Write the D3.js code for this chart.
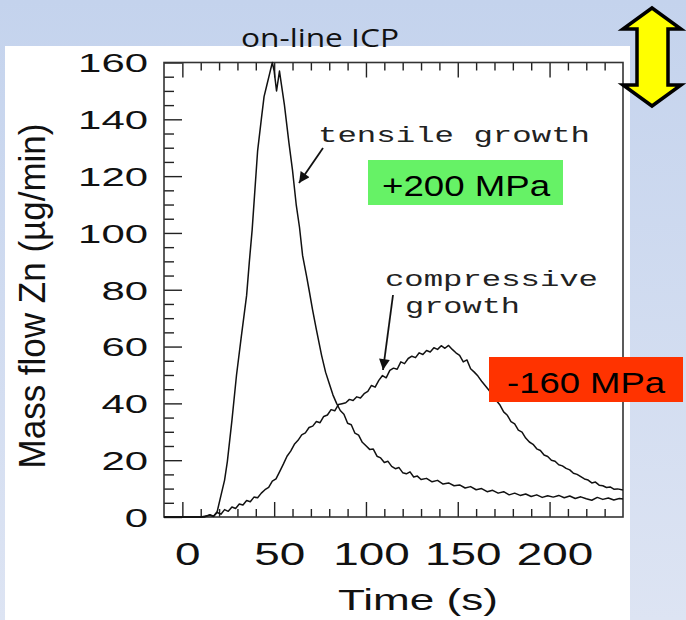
<!DOCTYPE html>
<html>
<head>
<meta charset="utf-8">
<script src="https://cdn.jsdelivr.net/npm/d3@7"></script>
<style>
  body { margin: 0; overflow: hidden; }
  svg { display: block; }
  .tick line { stroke: #222; stroke-width: 1.4; }
</style>
</head>
<body>
<div id="chart"></div>
<script>
// Axis domains and ticks
const timeDomain = [-10, 240];
const massDomain = [0, 160];
const timeTicks = [0, 50, 100, 150, 200];
const timeMinorTicks = [10, 20, 30, 40, 60, 70, 80, 90, 110, 120, 130, 140, 160, 170, 180, 190, 210, 220, 230];
const massTicks = [0, 20, 40, 60, 80, 100, 120, 140, 160];
const massMinorTicks = [5, 10, 15, 25, 30, 35, 45, 50, 55, 65, 70, 75, 85, 90, 95, 105, 110, 115, 125, 130, 135, 145, 150, 155];

// Tensile growth (+200 MPa) trace
const tensileTime = [-10, 10, 15, 17, 19, 21, 23, 24.5, 27, 29.5, 32, 35, 36.5, 38, 41, 43, 44.5, 46, 47.5, 49, 50, 51.3, 52.9, 54, 55.6, 58, 60, 62, 63.8, 65.5, 67.6, 69, 70.9, 73, 75.8, 78, 80, 82, 84,
  86, 88, 90, 92, 94, 96, 98, 100, 102, 104, 106, 108, 110, 112, 114, 116, 118, 120, 122, 124, 126, 128, 130, 133, 136, 139, 142, 145, 148, 151, 154, 157, 160,
  163, 166, 169, 172, 175, 178, 181, 184, 187, 190, 193, 196, 199, 202, 205, 208, 211, 214, 217, 220, 223, 226, 229, 232, 235, 238, 240];
const tensileMass = [0, 0, 0.6, 0.2, 2, 7.5, 13, 19.5, 34, 50, 63, 78, 90, 101, 129, 140, 148, 152, 156, 160, 157, 150, 157, 152, 145, 132, 122, 110, 102, 92, 85, 80, 73, 66, 57, 51, 47, 43, 40,
  37.5, 36.2, 33, 32.5, 29.5, 28.8, 26.3, 25.1, 23.8, 23.9, 21.4, 20.8, 19.2, 19.6, 17.8, 17.0, 17.4, 15.6, 15.2, 15.9, 14.1, 14.4, 13.2, 13.6, 12.4, 12.9, 11.6, 12.0, 11.0, 11.3, 10.2, 10.7, 9.6,
  10.0, 8.9, 9.4, 8.4, 8.9, 7.8, 8.4, 7.6, 8.1, 7.2, 7.8, 6.9, 7.5, 7.0, 7.6, 6.8, 7.4, 6.5, 7.1, 6.4, 5.9, 6.9, 6.2, 6.7, 6.0, 6.5, 6.3];

// Compressive growth (-160 MPa) trace
const compressiveTime = [-10, 12, 15, 17, 19, 21, 23, 25, 27, 29, 31, 33, 35, 37, 39, 41, 43, 45, 47, 49, 51, 53, 55, 57, 59, 61, 63, 65, 67, 69, 71, 73, 75, 77, 79, 81, 83, 85, 87, 89,
  91, 93, 95, 97, 99, 101, 103, 105, 107, 109, 111, 113, 115, 117, 119, 121, 123, 125, 127, 129, 131, 133, 135, 137, 139, 141, 143, 145, 147, 149, 151, 153, 155, 157, 159,
  161, 163, 165, 167, 169, 171, 173, 175, 177, 179, 181, 183, 185, 187, 189, 191, 193, 195, 197, 199, 201, 203, 205, 207, 209, 211, 213, 215, 217, 219, 221, 223, 225, 227, 229, 231, 233, 235, 237, 240];
const compressiveMass = [0, 0, 0.8, 0.3, 1.6, 1.0, 2.6, 2.0, 3.5, 3.0, 4.6, 4.2, 5.8, 5.4, 7.0, 6.8, 8.4, 9.6, 10.4, 12.6, 13.4, 16.0, 18.6, 21.4, 23.2, 25.6, 27.0, 28.9, 29.6, 31.5, 32.0, 33.6, 33.2, 35.4, 35.9, 37.8, 37.4, 39.6, 39.9, 40.2,
  41.4, 41.0, 42.3, 41.9, 43.4, 44.2, 46.3, 45.7, 48.1, 49.8, 49.0, 51.6, 52.4, 52.0, 54.6, 54.0, 55.8, 56.6, 56.1, 57.8, 57.2, 58.6, 58.1, 59.6, 59.0, 60.3, 59.4, 60.4, 59.0, 57.8, 56.9, 54.6, 55.3, 52.2, 51.0,
  49.6, 47.8, 46.2, 44.6, 42.9, 41.0, 39.4, 37.0, 35.8, 33.6, 32.8, 30.6, 29.9, 27.8, 26.4, 25.6, 24.0, 23.4, 21.8, 21.3, 20.0, 19.6, 18.4, 18.0, 17.1, 16.6, 15.4, 15.0, 14.2, 13.4, 13.0, 12.0, 12.3, 11.2, 11.0, 10.4, 10.6, 9.8, 9.9, 9.5];

const W = 686, H = 620;
const svg = d3.select("#chart").append("svg").attr("width", W).attr("height", H);

// slide background gradient
const defs = svg.append("defs");
const grad = defs.append("linearGradient").attr("id", "bg").attr("x1", 0).attr("y1", 0).attr("x2", 0).attr("y2", 1);
grad.append("stop").attr("offset", "0%").attr("stop-color", "#c4d3ed");
grad.append("stop").attr("offset", "100%").attr("stop-color", "#dde4f3");
defs.append("marker").attr("id", "head").attr("viewBox", "0 0 10 10").attr("refX", 10).attr("refY", 5)
  .attr("markerWidth", 7).attr("markerHeight", 6).attr("markerUnits", "strokeWidth").attr("orient", "auto")
  .append("path").attr("d", "M0,0L10,5L0,10z").attr("fill", "#111");

svg.append("rect").attr("width", W).attr("height", H).attr("fill", "url(#bg)");
svg.append("rect").attr("x", 5).attr("y", 46).attr("width", 625).attr("height", 574).attr("fill", "#fff");

const x = d3.scaleLinear().domain(timeDomain).range([164, 623]);
const y = d3.scaleLinear().domain(massDomain).range([517, 62.5]);

// bottom axis
const gb = svg.append("g").attr("transform", `translate(0,${y(0)})`);
gb.call(d3.axisBottom(x).tickValues(timeMinorTicks).tickSize(-8).tickFormat(""));
gb.append("g").call(d3.axisBottom(x).tickValues(timeTicks).tickSize(-15).tickFormat(d3.format("d")));
gb.selectAll(".domain").remove();
gb.selectAll("text")
  .attr("y", 48).attr("dy", 0).attr("dx", 5)
  .attr("font-family", "Liberation Sans, Arial, sans-serif").attr("font-size", 32).attr("fill", "#111")
  .attr("textLength", function() { return this.textContent.length * 25.5; })
  .attr("lengthAdjust", "spacingAndGlyphs");

// top axis (ticks only)
const gt = svg.append("g").attr("transform", `translate(0,${y(160)})`);
gt.call(d3.axisTop(x).tickValues(timeMinorTicks).tickSize(-8).tickFormat(""));
gt.append("g").call(d3.axisTop(x).tickValues(timeTicks).tickSize(-15).tickFormat(""));
gt.selectAll(".domain").remove();

// left axis
const gl = svg.append("g").attr("transform", `translate(${x(-10)},0)`);
gl.call(d3.axisLeft(y).tickValues(massMinorTicks).tickSize(-10).tickFormat(""));
gl.append("g").call(d3.axisLeft(y).tickValues(massTicks).tickSize(-18).tickPadding(16).tickFormat(d3.format("d")));
gl.selectAll(".domain").remove();
gl.selectAll("text")
  .attr("dy", "0.36em")
  .attr("font-family", "Liberation Sans, Arial, sans-serif").attr("font-size", 26).attr("fill", "#111")
  .attr("textLength", function() { return this.textContent.length * 23.3; })
  .attr("lengthAdjust", "spacingAndGlyphs");

// frame
svg.append("rect")
  .attr("x", x(-10)).attr("y", y(160))
  .attr("width", x(240) - x(-10)).attr("height", y(0) - y(160))
  .attr("fill", "none").attr("stroke", "#333").attr("stroke-width", 1.6);

// curves
const line = d3.line().x((d) => x(d[0])).y((d) => y(d[1]));
const tensile = tensileTime.map((t, i) => [t, tensileMass[i]]);
const compressive = compressiveTime.map((t, i) => [t, compressiveMass[i]]);
[tensile, compressive].forEach((series) => {
  svg.append("path").datum(series).attr("d", line)
    .attr("fill", "none").attr("stroke", "#111").attr("stroke-width", 1.5).attr("stroke-linejoin", "round");
});

// axis titles
svg.append("text")
  .attr("x", 418).attr("y", 610).attr("text-anchor", "middle")
  .attr("font-family", "Liberation Sans, Arial, sans-serif").attr("font-size", 30).attr("fill", "#111")
  .attr("textLength", 160).attr("lengthAdjust", "spacingAndGlyphs")
  .text("Time (s)");
svg.append("text")
  .attr("transform", "translate(45,296) rotate(-90)").attr("text-anchor", "middle")
  .attr("font-family", "Liberation Sans, Arial, sans-serif").attr("font-size", 36).attr("fill", "#111")
  .attr("textLength", 345).attr("lengthAdjust", "spacingAndGlyphs")
  .text("Mass flow Zn (\u00b5g/min)");

// annotations
const mono = "Liberation Mono, Courier New, monospace";
svg.append("text").attr("x", 318).attr("y", 142).attr("font-family", mono).attr("font-size", 22).attr("fill", "#222")
  .attr("textLength", 272).attr("lengthAdjust", "spacingAndGlyphs").text("tensile growth");
svg.append("text").attr("x", 385).attr("y", 286).attr("font-family", mono).attr("font-size", 22).attr("fill", "#222")
  .attr("textLength", 213).attr("lengthAdjust", "spacingAndGlyphs").text("compressive");
svg.append("text").attr("x", 405).attr("y", 313).attr("font-family", mono).attr("font-size", 22).attr("fill", "#222")
  .attr("textLength", 115).attr("lengthAdjust", "spacingAndGlyphs").text("growth");

svg.append("line").attr("x1", 323).attr("y1", 148).attr("x2", 299).attr("y2", 183)
  .attr("stroke", "#111").attr("stroke-width", 1.8).attr("marker-end", "url(#head)");
svg.append("line").attr("x1", 393).attr("y1", 295).attr("x2", 383).attr("y2", 370)
  .attr("stroke", "#111").attr("stroke-width", 1.8).attr("marker-end", "url(#head)");

// stress boxes
svg.append("rect").attr("x", 368).attr("y", 160).attr("width", 195).attr("height", 45).attr("fill", "#66f266");
svg.append("text").attr("x", 382).attr("y", 196)
  .attr("font-family", "Liberation Sans, Arial, sans-serif").attr("font-size", 30).attr("fill", "#000")
  .attr("textLength", 168).attr("lengthAdjust", "spacingAndGlyphs").text("+200 MPa");
svg.append("rect").attr("x", 489).attr("y", 357).attr("width", 194).attr("height", 45).attr("fill", "#ff3300");
svg.append("text").attr("x", 507).attr("y", 393)
  .attr("font-family", "Liberation Sans, Arial, sans-serif").attr("font-size", 30).attr("fill", "#000")
  .attr("textLength", 158).attr("lengthAdjust", "spacingAndGlyphs").text("-160 MPa");

// title
svg.append("text").attr("x", 320).attr("y", 47).attr("text-anchor", "middle")
  .attr("font-family", "Open Sans, sans-serif").attr("font-size", 26).attr("fill", "#111")
  .attr("textLength", 158).attr("lengthAdjust", "spacingAndGlyphs").text("on-line ICP");

// yellow double arrow
svg.append("path")
  .attr("d", "M652,8L681,29L668,29L668,85L681,85L652,106L623,85L637,85L637,29L623,29Z")
  .attr("fill", "#ffff00").attr("stroke", "#000").attr("stroke-width", 3.5).attr("stroke-linejoin", "miter");
</script>
</body>
</html>
